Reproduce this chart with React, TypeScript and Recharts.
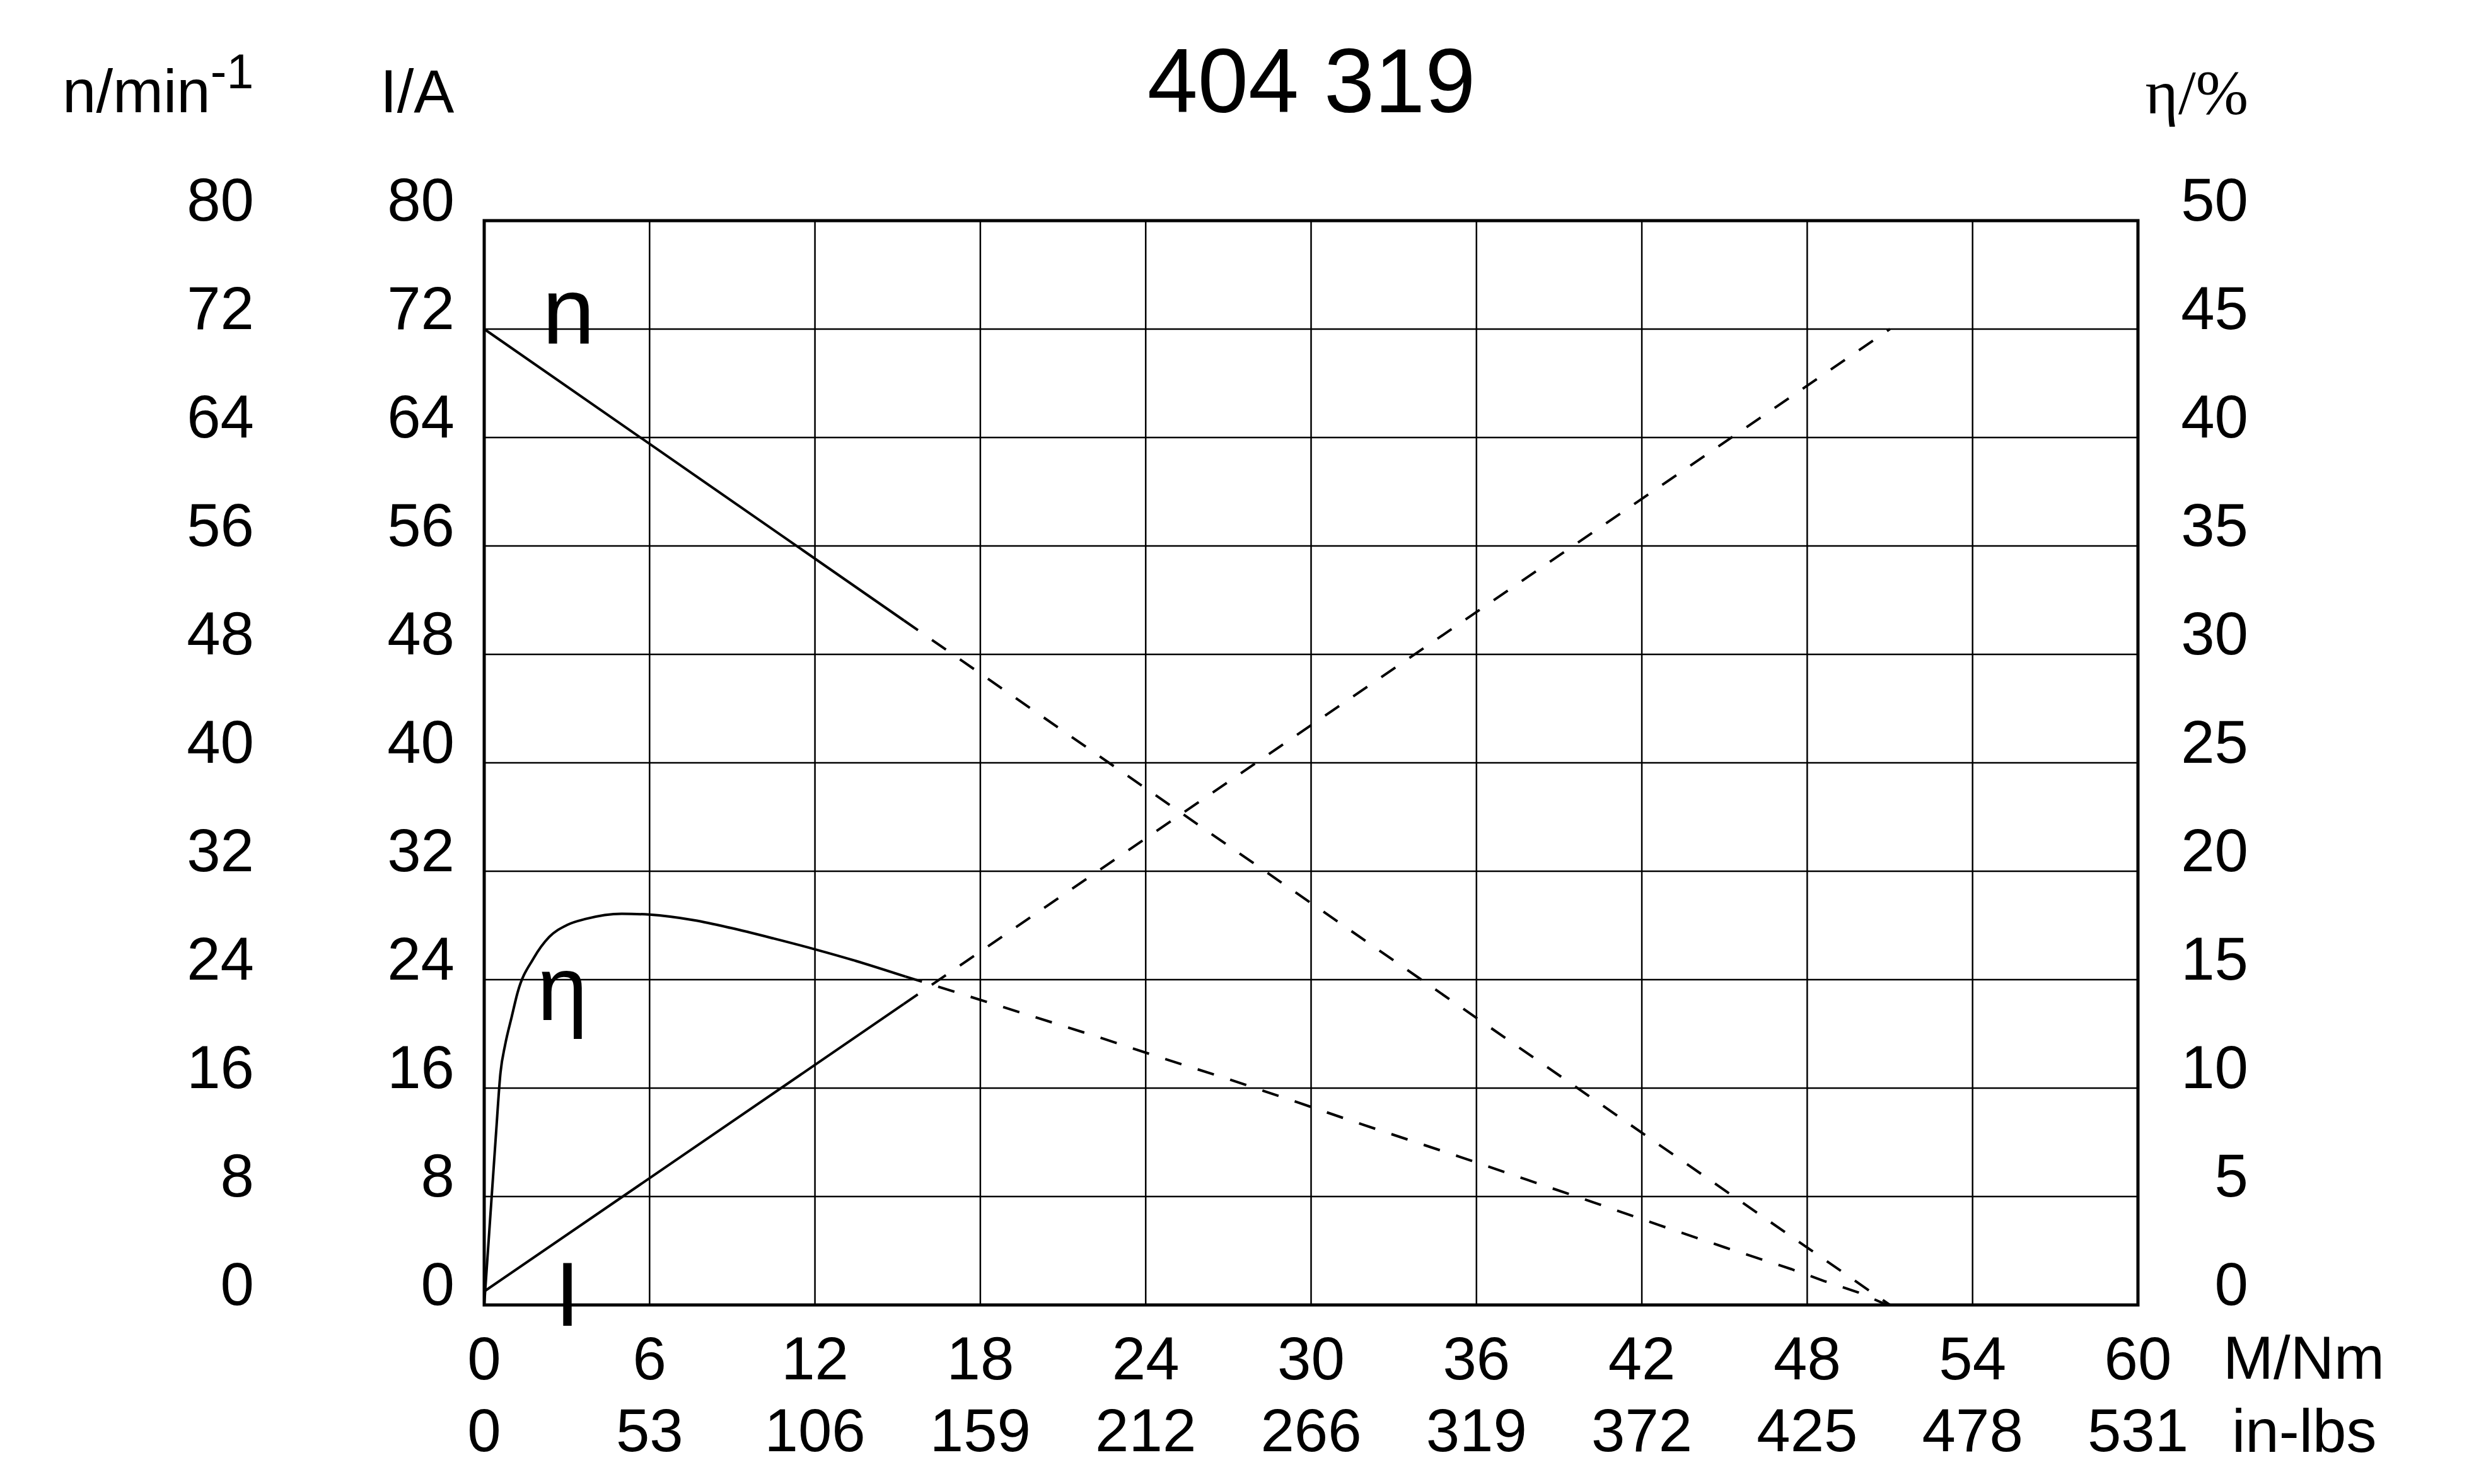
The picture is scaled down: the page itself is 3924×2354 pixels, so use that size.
import React from 'react';
import { LineChart, Line, XAxis, YAxis, CartesianGrid, ReferenceArea } from 'recharts';

// ---- data ----
const torqueTicksNm = [0, 6, 12, 18, 24, 30, 36, 42, 48, 54, 60];
const torqueLabelsInLbs = ['0', '53', '106', '159', '212', '266', '319', '372', '425', '478', '531'];
const speedTicks = [0, 8, 16, 24, 32, 40, 48, 56, 64, 72, 80];
const currentTicks = [0, 8, 16, 24, 32, 40, 48, 56, 64, 72, 80];
const effTicks = [0, 5, 10, 15, 20, 25, 30, 35, 40, 45, 50];

const speedSolid = [
  { m: 0, v: 72 },
  { m: 15.23, v: 50.5 },
];
const speedDashed = [
  { m: 15.23, v: 50.5 },
  { m: 51, v: 0 },
];
const currentSolid = [
  { m: 0, v: 1 },
  { m: 15.22, v: 22.2 },
];
const currentDashed = [
  { m: 15.22, v: 22.2 },
  { m: 51, v: 72 },
];
const effSolid = [
  { m: 0, v: 0 },
  { m: 0.42, v: 7.75 },
  { m: 0.59, v: 10.7 },
  { m: 0.76, v: 12.0 },
  { m: 1.0, v: 13.3 },
  { m: 1.21, v: 14.4 },
  { m: 1.8, v: 16.0 },
  { m: 2.36, v: 16.97 },
  { m: 3.02, v: 17.53 },
  { m: 3.68, v: 17.8 },
  { m: 4.99, v: 18.04 },
  { m: 6.0, v: 18.0 },
  { m: 7.62, v: 17.74 },
  { m: 8.93, v: 17.39 },
  { m: 10.5, v: 16.9 },
  { m: 12.0, v: 16.4 },
  { m: 13.52, v: 15.85 },
  { m: 15.29, v: 15.14 },
];
const effDashed = [
  { m: 15.29, v: 15.14 },
  { m: 17.37, v: 14.32 },
  { m: 19.82, v: 13.34 },
  { m: 22.22, v: 12.38 },
  { m: 24.61, v: 11.38 },
  { m: 27.04, v: 10.4 },
  { m: 29.45, v: 9.37 },
  { m: 31.84, v: 8.33 },
  { m: 35.4, v: 6.83 },
  { m: 37.82, v: 5.78 },
  { m: 40.2, v: 4.75 },
  { m: 42.63, v: 3.68 },
  { m: 45.0, v: 2.66 },
  { m: 47.43, v: 1.65 },
  { m: 48.6, v: 1.11 },
  { m: 49.85, v: 0.58 },
  { m: 50.9, v: 0 },
];

// ---- styles ----
const W = 3924;
const H = 2354;
const SANS = '"Liberation Sans", Arial, Helvetica, sans-serif';
const SERIF = '"Liberation Serif", "Times New Roman", serif';
const TICK_FS = 96;
const DASH = '27 27';
const CURVE_W = 4;

const yTick = (p: any) => (
  <text x={p.x} y={p.y} textAnchor="end" fontFamily={SANS} fontSize={TICK_FS} fill="#000">
    {p.payload.value}
  </text>
);
const xTickNm = (p: any) => (
  <text x={p.x} y={p.y} textAnchor="middle" fontFamily={SANS} fontSize={TICK_FS} fill="#000">
    {p.payload.value}
  </text>
);
const xTickIn = (p: any) => (
  <text x={p.x} y={p.y} textAnchor="middle" fontFamily={SANS} fontSize={TICK_FS} fill="#000">
    {torqueLabelsInLbs[torqueTicksNm.indexOf(p.payload.value)]}
  </text>
);

export default function App() {
  return (
    <div style={{ position: 'absolute', left: 0, top: 0, width: W, height: H, background: '#fff' }}>
      <LineChart width={W} height={H} margin={{ top: 350, right: 532, bottom: 282, left: 766 }}>
        <XAxis
          xAxisId="nm"
          type="number"
          dataKey="m"
          domain={[0, 60]}
          ticks={torqueTicksNm}
          height={1}
          tickSize={0}
          tickMargin={117}
          axisLine={false}
          tickLine={false}
          tick={xTickNm}
          allowDataOverflow
          interval={0}
        />
        <XAxis
          xAxisId="in"
          type="number"
          dataKey="m"
          domain={[0, 60]}
          ticks={torqueTicksNm}
          height={1}
          tickSize={0}
          tickMargin={232}
          axisLine={false}
          tickLine={false}
          tick={xTickIn}
          allowDataOverflow
          interval={0}
        />
        <YAxis
          yAxisId="n"
          orientation="left"
          type="number"
          domain={[0, 80]}
          ticks={speedTicks}
          width={1}
          tickSize={0}
          tickMargin={364}
          axisLine={false}
          tickLine={false}
          tick={yTick}
          allowDataOverflow
          interval={0}
        />
        <YAxis
          yAxisId="i"
          orientation="left"
          type="number"
          domain={[0, 80]}
          ticks={currentTicks}
          width={1}
          tickSize={0}
          tickMargin={47}
          axisLine={false}
          tickLine={false}
          tick={yTick}
          allowDataOverflow
          interval={0}
        />
        <YAxis
          yAxisId="eta"
          orientation="right"
          type="number"
          domain={[0, 50]}
          ticks={effTicks}
          width={1}
          tickSize={0}
          tickMargin={175}
          axisLine={false}
          tickLine={false}
          tick={yTick}
          allowDataOverflow
          interval={0}
        />
        <CartesianGrid xAxisId="nm" yAxisId="n" stroke="#000" strokeWidth={2.5} />
        <ReferenceArea
          xAxisId="nm"
          yAxisId="n"
          x1={0}
          x2={60}
          y1={0}
          y2={80}
          fill="none"
          fillOpacity={0}
          stroke="#000"
          strokeWidth={5}
          ifOverflow="visible"
        />
        <Line xAxisId="nm" yAxisId="n" data={speedSolid} dataKey="v" type="linear" stroke="#000" strokeWidth={CURVE_W} dot={false} activeDot={false} isAnimationActive={false} />
        <Line xAxisId="nm" yAxisId="n" data={speedDashed} dataKey="v" type="linear" stroke="#000" strokeWidth={CURVE_W} strokeDasharray={DASH} dot={false} activeDot={false} isAnimationActive={false} />
        <Line xAxisId="nm" yAxisId="i" data={currentSolid} dataKey="v" type="linear" stroke="#000" strokeWidth={CURVE_W} dot={false} activeDot={false} isAnimationActive={false} />
        <Line xAxisId="nm" yAxisId="i" data={currentDashed} dataKey="v" type="linear" stroke="#000" strokeWidth={CURVE_W} strokeDasharray={DASH} dot={false} activeDot={false} isAnimationActive={false} />
        <Line xAxisId="nm" yAxisId="eta" data={effSolid} dataKey="v" type="monotone" stroke="#000" strokeWidth={CURVE_W} dot={false} activeDot={false} isAnimationActive={false} />
        <Line xAxisId="nm" yAxisId="eta" data={effDashed} dataKey="v" type="linear" stroke="#000" strokeWidth={CURVE_W} strokeDasharray={DASH} dot={false} activeDot={false} isAnimationActive={false} />
      </LineChart>
      <svg
        width={W}
        height={H}
        style={{ position: 'absolute', left: 0, top: 0, pointerEvents: 'none' }}
      >
        <text x={2080} y={178} textAnchor="middle" fontFamily={SANS} fontSize={144} fill="#000">
          404 319
        </text>
        <text x={99} y={178} fontFamily={SANS} fontSize={96} fill="#000">
          n/min
          <tspan dy={-38} fontSize={77}>-1</tspan>
        </text>
        <text x={603} y={178} fontFamily={SANS} fontSize={96} fill="#000">
          I/A
        </text>
        <text x={3566} y={180} textAnchor="end" fontFamily={SERIF} fontSize={100} fill="#000">
          η/%
        </text>
        <text x={3526} y={2187} fontFamily={SANS} fontSize={TICK_FS} fill="#000">
          M/Nm
        </text>
        <text x={3540} y={2303} fontFamily={SANS} fontSize={TICK_FS} fill="#000">
          in-lbs
        </text>
        <text x={860} y={545} fontFamily={SANS} fontSize={150} fill="#000">
          n
        </text>
        <text x={852} y={1618} fontFamily={SANS} fontSize={144} fill="#000">
          η
        </text>
        <text x={880} y={2103} fontFamily={SANS} fontSize={144} fill="#000">
          I
        </text>
      </svg>
    </div>
  );
}
